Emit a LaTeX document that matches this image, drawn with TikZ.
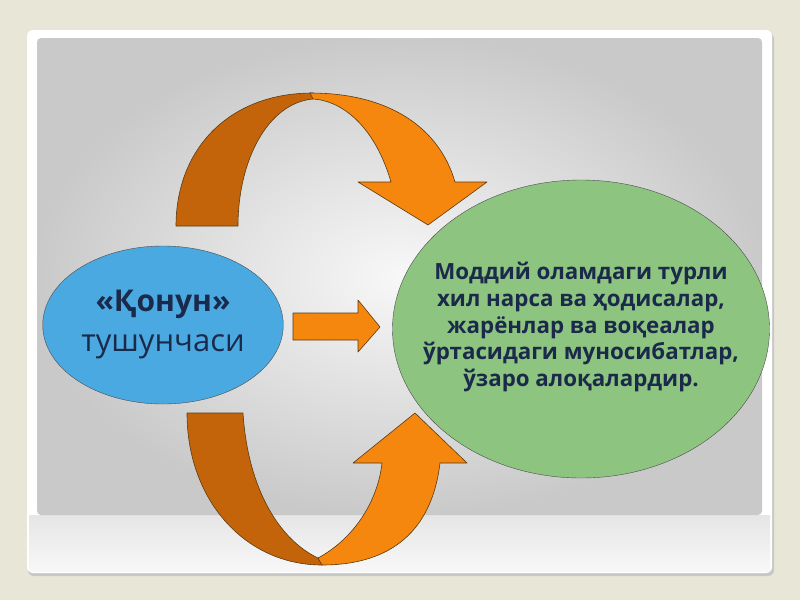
\documentclass[tikz,border=0pt]{standalone}
\usepackage{fontspec}
\setmainfont{Open Sans}
\usetikzlibrary{shapes.geometric}
\definecolor{pagebg}{HTML}{E8E6D7}
\definecolor{lawblue}{HTML}{4BA9E1}
\definecolor{rulegreen}{HTML}{8DC47F}
\definecolor{orangedark}{HTML}{C4640A}
\definecolor{orangelight}{HTML}{F5870F}
\definecolor{orangeline}{HTML}{5A3A12}
\definecolor{textnavy}{HTML}{1B2A4A}
\begin{document}
\begin{tikzpicture}[x=1pt,y=-1pt,
  ribbon/.style={draw=orangeline,line width=0.6pt,line join=round}]
\useasboundingbox (0,0) rectangle (800,600);
\fill[pagebg] (0,0) rectangle (800,600);
\fill[black!22,rounded corners=6] (28,33) rectangle (774,576);
\fill[white,rounded corners=6] (27,30) rectangle (772,573);
\shade[top color=gray!20,bottom color=gray!6] (29,515) rectangle (770,571);
\shade[rounded corners=4,inner color=gray!6,outer color=gray!42] (37,38) rectangle (762,515);

\node (law) [ellipse,draw=black!70,fill=lawblue,minimum width=240,minimum height=158,
  align=center,text=textnavy,font=\fontsize{31}{40}\selectfont] at (163,325)
  {{\bfseries\fontsize{30}{40}\selectfont«Қонун»}\\тушунчаси};

\node (rule) [ellipse,draw=black!70,fill=rulegreen,minimum width=377,minimum height=298] at (581,329) {};
\node (ruletext) [align=center,text=textnavy,font=\bfseries\fontsize{22.3}{26.7}\selectfont] at (581,327)
  {Моддий оламдаги турли\\хил нарса ва ҳодисалар,\\жарёнлар ва воқеалар\\ўртасидаги муносибатлар,\\ўзаро алоқалардир.};

\coordinate (push) at (293,326.5);
\draw[ribbon,fill=orangelight] (push) ++(0,-13.5) -- ++(65,0) -- ++(0,-13) -- ++(22,27)
  -- ++(-22,25) -- ++(0,-12) -- ++(-65,0) -- cycle;

\draw[ribbon,fill=orangedark] (176,226) .. controls (176,150) and (228,93) .. (313,93)
  -- (313,99) .. controls (268,103) and (238,160) .. (238,226) -- cycle;
\draw[ribbon,fill=orangelight] (310,93) .. controls (392,93) and (440,130) .. (455,182)
  -- (487,182) -- (428,225) -- (358,182) -- (391,182)
  .. controls (376,130) and (345,101) .. (313,99) -- cycle;

\draw[ribbon,fill=orangedark] (187,413) -- (243,413) .. controls (248,490) and (280,540) .. (318,558)
  -- (322,565) .. controls (245,565) and (187,500) .. (187,413) -- cycle;
\draw[ribbon,fill=orangelight] (318,558) .. controls (355,538) and (378,500) .. (382,463)
  -- (353,463) -- (415,413) -- (467,463) -- (440,463)
  .. controls (432,530) and (392,565) .. (322,565) -- cycle;
\end{tikzpicture}
\end{document}
